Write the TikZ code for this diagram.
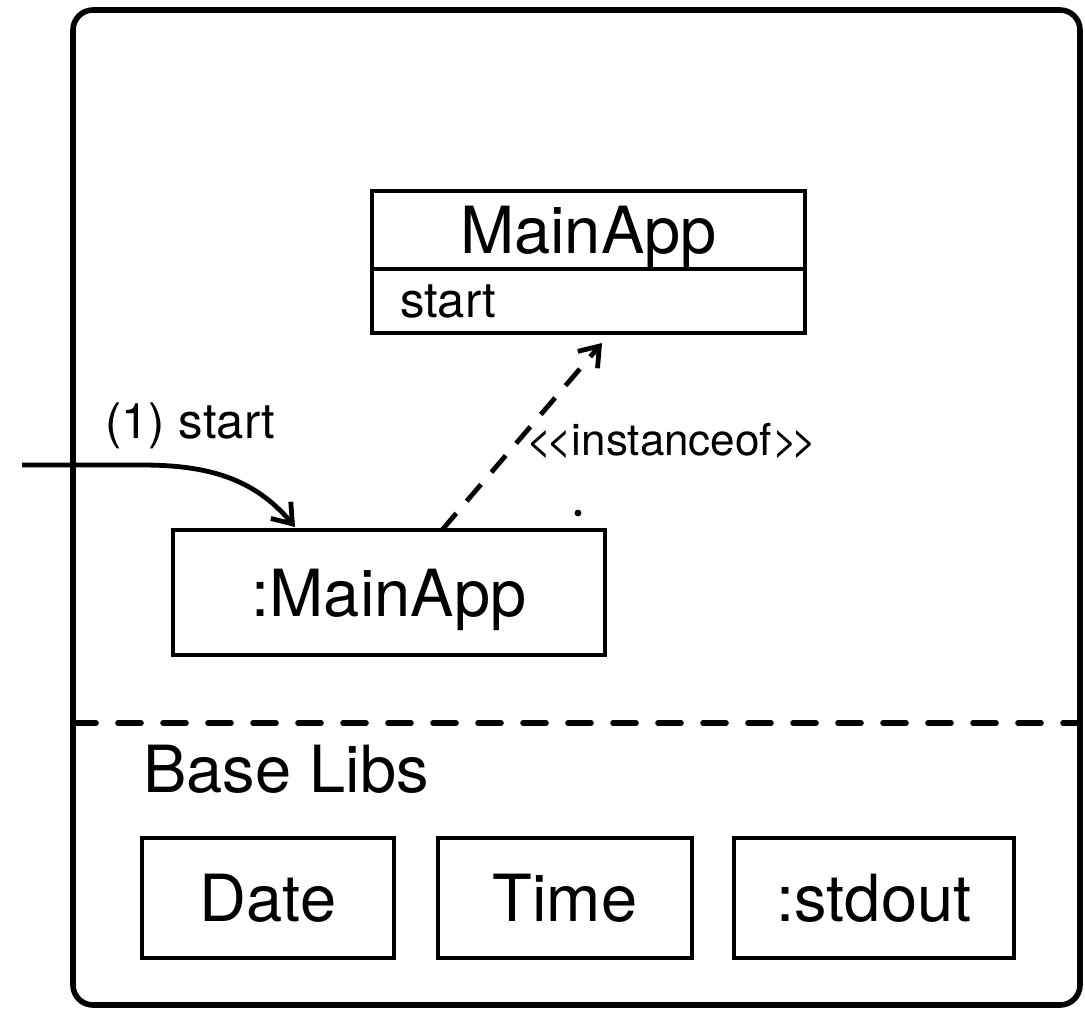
\documentclass[tikz,border=0pt]{standalone}
\usepackage{fontspec}
\setmainfont{TeX Gyre Heros}
\usepackage{tikz}
\usetikzlibrary{arrows.meta,positioning,calc}
\newcommand{\bigtxt}{\fontsize{32.5}{39}\selectfont}
\newcommand{\labtxt}{\fontsize{24.5}{29}\selectfont}
\newcommand{\smalltxt}{\fontsize{22}{26}\selectfont}

\begin{document}
\begin{tikzpicture}[x=0.5pt, y=0.5pt, node distance=22pt]
  \tikzstyle{frame} = [draw, line width=2.8pt, rounded corners=10pt]
  \tikzstyle{divider} = [draw, line width=2.8pt, dash pattern=on 11.5pt off 11pt, line cap=round]
  \tikzstyle{box} = [rectangle, draw, line width=2.4pt, inner sep=0pt, outer sep=0pt, text depth=0pt, font=\bigtxt]
  \tikzstyle{ops} = [box, font=\labtxt, inner xsep=14pt, align=left, text width=188.5pt, minimum height=32pt]
  \tikzstyle{lib} = [box, minimum height=60pt]
  \tikzstyle{note} = [inner sep=0pt, anchor=base west]
  \tikzstyle{call} = [draw, line width=2.4pt, -{Straight Barb[length=9pt,width=13pt]}]
  \tikzstyle{inst} = [call, dash pattern=on 11pt off 8pt]

  \useasboundingbox (0,0) rectangle (1085,-1012);

  % application frame
  \coordinate (appNW) at (73,-10);
  \coordinate (appSE) at (1080,-1005);
  \draw[frame] (appNW) rectangle (appSE);
  \coordinate (sepL) at (73,-723);
  \coordinate (sepR) at (1080,-723);
  \path[divider] (sepL) -- (sepR);

  % class and instance
  \node[box, minimum width=216.5pt, minimum height=39pt] (cls) at (588.5,-230) {MainApp};
  \node[ops, below=0pt of cls] (clsops) {start};
  \node[box, minimum width=216pt, minimum height=62.5pt] (obj) at (389,-592.5) {:MainApp};

  % base libs
  \node[note, font=\bigtxt] (baselibs) at (143,-792) {Base Libs};
  \node[lib, minimum width=126pt] (date) at (268,-898) {Date};
  \node[lib, minimum width=127pt, right=22pt of date] (time) {Time};
  \node[lib, minimum width=140pt, right=21pt of time] (stdout) {:stdout};

  % labels
  \node[note, font=\labtxt] (startlbl) at (105,-438) {(1) start};
  \node[note, font=\smalltxt] (instlbl) at (526,-455) {<\kern-3pt<instanceof>\kern-3pt>};
  \coordinate (stray) at (578,-513);
  \fill (stray) circle[radius=1.7pt];

  % connectors
  \coordinate (caller) at (22,-465);
  \path[call] (caller) -- ++(120,0) to[out=0,in=130] ($(obj.north west)+(122,3)$);
  \path[inst] ($(obj.north)+(53,0)$) -- ($(clsops.south west)+(230,-10)$);
\end{tikzpicture}
\end{document}
